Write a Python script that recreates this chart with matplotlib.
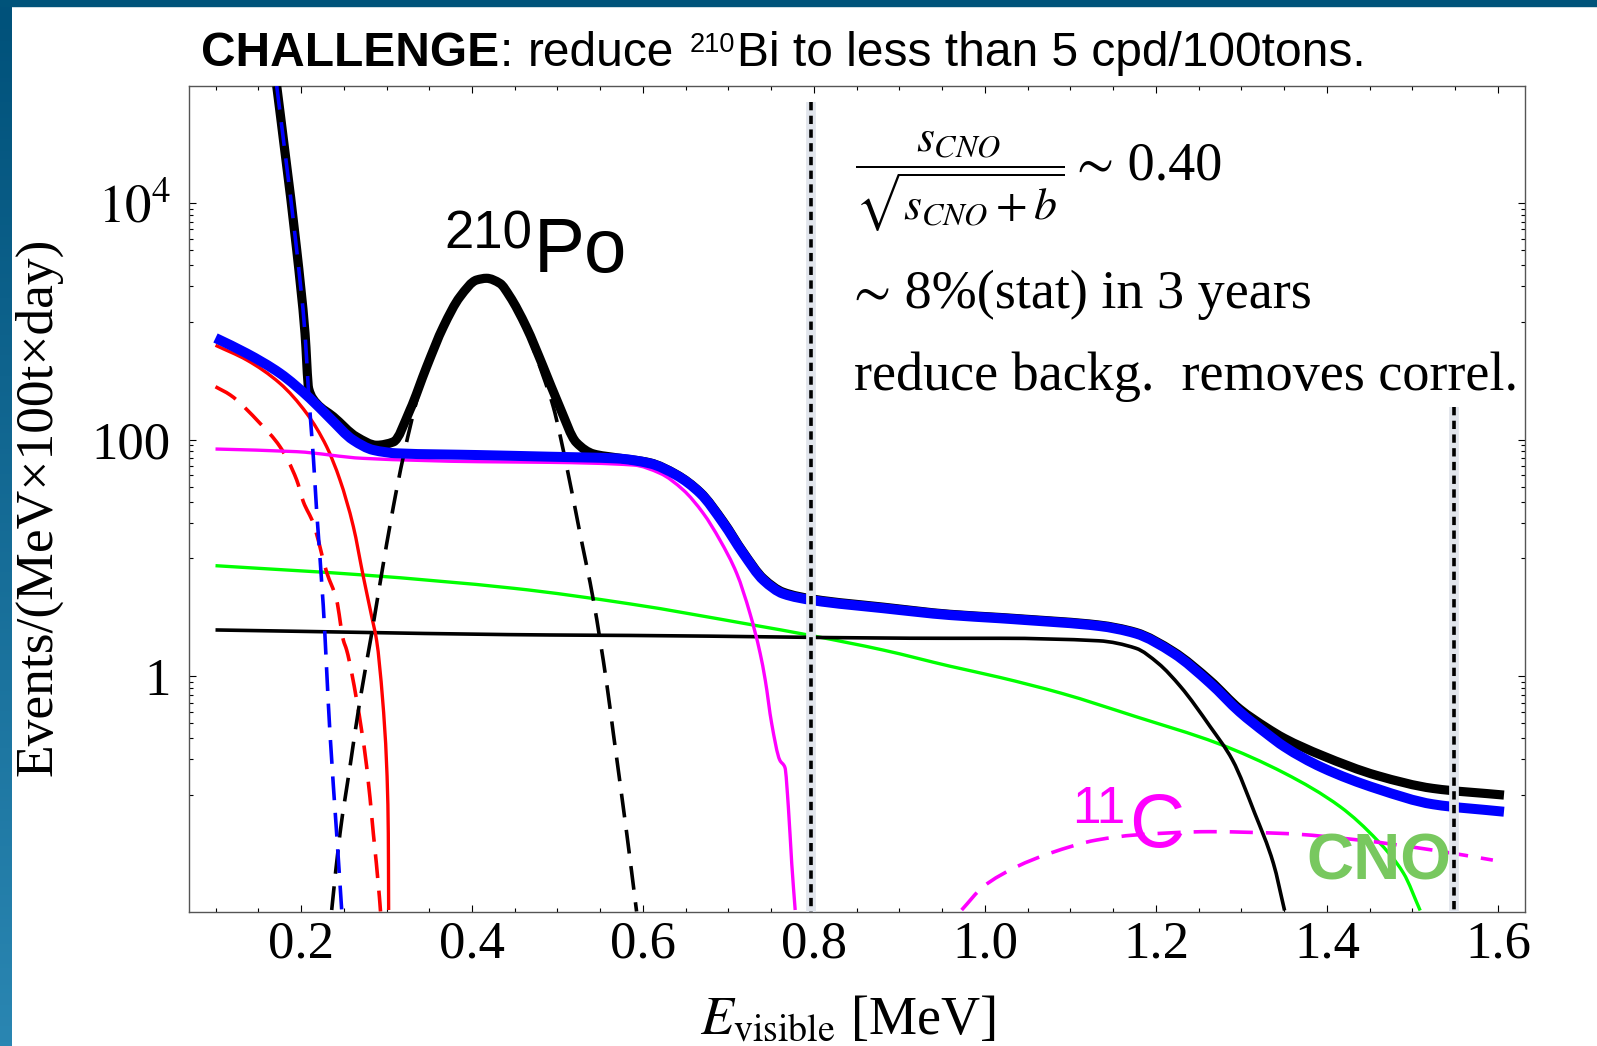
import numpy as np
import matplotlib
matplotlib.use("Agg")
import matplotlib.pyplot as plt
from matplotlib.colors import LinearSegmentedColormap
from matplotlib.patches import Rectangle, PathPatch
from matplotlib.path import Path
from matplotlib.ticker import FixedLocator, FixedFormatter, NullFormatter

# ---------------- spectra (E in MeV, events / (MeV x 100 t x day)) ----------------
total_po_x = [0.1716, 0.181, 0.195, 0.2047, 0.209, 0.2184, 0.2378, 0.265, 0.2885,
              0.308, 0.3275, 0.347, 0.3665, 0.386, 0.4055, 0.417, 0.4327, 0.444,
              0.4635, 0.483, 0.5025, 0.522, 0.542, 0.569, 0.608, 0.639, 0.667,
              0.694, 0.717, 0.741, 0.764, 0.799, 0.881, 0.959, 1.0176, 1.046,
              1.133, 1.176, 1.2205, 1.2634, 1.298, 1.329, 1.350, 1.394, 1.459,
              1.524, 1.607]
total_po_y = [98000, 28000, 4020, 795, 270, 203, 157, 106, 90,
              96, 179, 415, 903, 1620, 2245, 2320, 2100, 1640,
              900, 420, 190, 95, 76, 70.5, 64, 51, 36,
              20.3, 11.3, 6.7, 5.15, 4.5, 3.85, 3.35, 3.15, 3.05,
              2.72, 2.36, 1.62, 0.92, 0.53, 0.37, 0.30, 0.215, 0.145,
              0.113, 0.0993]

total_x = [0.1, 0.1365, 0.1754, 0.2105, 0.234, 0.261, 0.2846, 0.312, 0.409,
           0.491, 0.569, 0.608, 0.639, 0.667, 0.694, 0.717, 0.741, 0.764,
           0.799, 0.881, 0.959, 1.0176, 1.046, 1.133, 1.176, 1.2205, 1.2634,
           1.298, 1.329, 1.350, 1.394, 1.459, 1.524, 1.607]
total_y = [726, 538, 365, 224, 152, 99.5, 82, 76.9, 74.3,
           72, 69.6, 63.2, 50.3, 35.3, 19.7, 11, 6.5, 5.0,
           4.4, 3.77, 3.3, 3.1, 3.0, 2.67, 2.31, 1.57, 0.875,
           0.50, 0.33, 0.255, 0.17, 0.112, 0.083, 0.0718]

c14_x = [0.1716, 0.181, 0.195, 0.2047, 0.209, 0.2144, 0.2183, 0.226, 0.2339,
         0.2417, 0.2476]
c14_y = [98000, 28000, 4000, 790, 240, 72, 25, 4.0, 0.33, 0.047, 0.0106]

po_x = [0.2359, 0.2456, 0.2573, 0.269, 0.2827, 0.2924, 0.308, 0.3197, 0.339,
        0.3665, 0.386, 0.4055, 0.415, 0.4327, 0.444, 0.4635, 0.483, 0.495,
        0.5108, 0.5263, 0.542, 0.5575, 0.5653, 0.581, 0.5925]
po_y = [0.0106, 0.047, 0.173, 0.63, 2.31, 6.1, 27.2, 72, 264,
        830, 1550, 2180, 2250, 2050, 1570, 830, 350, 191,
        59.3, 16.2, 4.4, 0.875, 0.33, 0.047, 0.0103]

bi_x = [0.1, 0.1365, 0.1754, 0.2067, 0.230, 0.2456, 0.2612, 0.2729, 0.2827,
        0.2885, 0.2955, 0.3002, 0.3021, 0.3025]
bi_y = [630, 473, 300, 167, 87.5, 45.7, 18.5, 6.97, 3.2,
        2.0, 0.63, 0.173, 0.047, 0.0106]

bi_low_x = [0.1, 0.117, 0.152, 0.1754, 0.195, 0.2027, 0.2144, 0.230, 0.2417,
            0.2495, 0.2534, 0.2651, 0.2768, 0.2846, 0.2917, 0.293]
bi_low_y = [281, 240, 138, 87.5, 45.7, 30, 19.7, 7.6, 4.4,
            2.03, 1.67, 0.63, 0.173, 0.047, 0.0137, 0.0103]

be7_x = [0.1, 0.195, 0.273, 0.409, 0.491, 0.589, 0.62, 0.647, 0.6705, 0.690,
         0.7096, 0.7251, 0.737, 0.743, 0.7505, 0.760, 0.766, 0.770, 0.774, 0.778]
be7_y = [83.6, 79.4, 69.7, 65.3, 64.5, 61.2, 52.1, 37.7, 23.9, 14.2,
         7.43, 3.41, 1.57, 0.93, 0.40, 0.196, 0.17, 0.079, 0.026, 0.0106]

cno_x = [0.1, 0.273, 0.4483, 0.585, 0.725, 0.799, 0.881, 0.959, 1.0176, 1.0895,
         1.1765, 1.272, 1.3504, 1.4156, 1.459, 1.4895, 1.509]
cno_y = [8.63, 7.2, 5.56, 4.1, 2.75, 2.2, 1.67, 1.22, 0.98, 0.72,
         0.457, 0.272, 0.152, 0.079, 0.041, 0.0217, 0.0105]

pep_x = [0.1, 0.491, 0.585, 0.959, 1.0176, 1.133, 1.1765, 1.2026, 1.2287,
         1.2634, 1.2895, 1.3155, 1.3373, 1.3504]
pep_y = [2.47, 2.24, 2.22, 2.1, 2.1, 2.0, 1.73, 1.29, 0.82,
         0.376, 0.196, 0.0697, 0.0263, 0.0105]

c11_x = [0.9727, 0.998, 1.037, 1.076, 1.1306, 1.1765, 1.263, 1.350, 1.437,
         1.524, 1.594]
c11_y = [0.0106, 0.0167, 0.0246, 0.032, 0.0414, 0.0457, 0.0487, 0.047, 0.0414,
         0.034, 0.028]

# energy window limits
window_x = [0.797, 1.548]
window_top = [7.2e4, 190]

# axis ticks
x_major = [0.2, 0.4, 0.6, 0.8, 1.0, 1.2, 1.4, 1.6]
x_major_labels = ['0.2', '0.4', '0.6', '0.8', '1.0', '1.2', '1.4', '1.6']
x_minor = [round(0.1 + 0.05 * i, 2) for i in range(31)]
y_major = [1e-2, 1, 1e2, 1e4]
y_major_labels = ['0.01', '1', '100', r'$10^4$']
y_minor = [k * 10.0 ** m for m in (-1, 1, 3) for k in range(1, 10)]

# ---------------- figure ----------------
W, H, DPI = 1597, 1046, 100
serif = ['Liberation Serif', 'STIXGeneral', 'DejaVu Serif']
sans = ['Liberation Sans', 'DejaVu Sans']
plt.rcParams['font.family'] = serif
plt.rcParams['mathtext.fontset'] = 'stix'

fig = plt.figure(figsize=(W / DPI, H / DPI), dpi=DPI)
fig.patch.set_facecolor('white')


def fx(px):
    return px / W


def fy(py):
    return 1 - py / H


# slide frame: gradient bar on the left, solid bar on top
ax_frame = fig.add_axes([0, 0, 12 / W, 1])
frame_cmap = LinearSegmentedColormap.from_list('frame', ['#00517a', '#2a86b2'])
ax_frame.imshow(np.linspace(0, 1, 256)[:, None], aspect='auto', cmap=frame_cmap,
                extent=[0, 1, 0, 1], origin='upper')
ax_frame.axis('off')
fig.patches.append(Rectangle((0, 1 - 6 / H), 1, 6 / H, transform=fig.transFigure,
                             color='#00537a', zorder=5))

ax = fig.add_axes([fx(189), fy(911.7), (1525 - 189) / W, (911.7 - 86) / H])
ax.set_yscale('log')
ax.set_xlim(0.069, 1.6316)
ax.set_ylim(10 ** -1.989, 10 ** 4.991)


def spectrum(xs, ys, **kw):
    """Draw a spectrum through its points as a smooth curve (monotone cubic
    segments in x / log10(y), the axes' own coordinates)."""
    x = np.asarray(xs, float)
    y = np.asarray(ys, float)
    ly = np.log10(y)
    h = np.diff(x)
    d = np.diff(ly) / h
    m = np.empty_like(x)
    m[0], m[-1] = d[0], d[-1]
    for k in range(1, len(x) - 1):
        if d[k - 1] * d[k] <= 0:
            m[k] = 0.0
        else:
            w1 = 2 * h[k] + h[k - 1]
            w2 = h[k] + 2 * h[k - 1]
            m[k] = (w1 + w2) / (w1 / d[k - 1] + w2 / d[k])
    verts = [(x[0], y[0])]
    codes = [Path.MOVETO]
    for k in range(len(x) - 1):
        verts += [(x[k] + h[k] / 3, 10 ** (ly[k] + m[k] * h[k] / 3)),
                  (x[k + 1] - h[k] / 3, 10 ** (ly[k + 1] - m[k + 1] * h[k] / 3)),
                  (x[k + 1], y[k + 1])]
        codes += [Path.CURVE4] * 3
    patch = PathPatch(Path(verts, codes), fill=False, capstyle='butt',
                      joinstyle='round', **kw)
    ax.add_patch(patch)
    return patch


dash = (0, (6.6, 3.5))
spectrum(cno_x, cno_y, edgecolor='#00ff00', lw=2.4, zorder=2)
spectrum(pep_x, pep_y, edgecolor='black', lw=2.6, zorder=2)
spectrum(bi_x, bi_y, edgecolor='#ff0000', lw=2.4, zorder=2)
spectrum(bi_low_x, bi_low_y, edgecolor='#ff0000', lw=2.6, linestyle=dash, zorder=2)
spectrum(be7_x, be7_y, edgecolor='#ff00ff', lw=2.4, zorder=2)
spectrum(c11_x, c11_y, edgecolor='#ff00ff', lw=2.6, linestyle=(0, (6.4, 3.6)),
         zorder=2)
spectrum(po_x, po_y, edgecolor='black', lw=2.6, linestyle=dash, zorder=2)
spectrum(total_po_x, total_po_y, edgecolor='black', lw=6.6, zorder=3)
spectrum(total_x, total_y, edgecolor='#0000ff', lw=7.2, zorder=4)
spectrum(c14_x, c14_y, edgecolor='#0000ff', lw=2.6, linestyle=dash, zorder=5)

for xv, top in zip(window_x, window_top):
    ax.plot([xv, xv], [top, 1e-3], color='#e1e5ec', lw=7, zorder=6,
            solid_capstyle='butt')
    ax.plot([xv, xv], [top, 1e-3], color='black', lw=2.6, ls=(0, (2.3, 1.5)),
            zorder=7)

# axes styling
ax.xaxis.set_major_locator(FixedLocator(x_major))
ax.xaxis.set_major_formatter(FixedFormatter(x_major_labels))
ax.xaxis.set_minor_locator(FixedLocator(x_minor))
ax.xaxis.set_minor_formatter(NullFormatter())
ax.yaxis.set_major_locator(FixedLocator(y_major))
ax.yaxis.set_major_formatter(FixedFormatter(y_major_labels))
ax.yaxis.set_minor_locator(FixedLocator(y_minor))
ax.yaxis.set_minor_formatter(NullFormatter())
ax.tick_params(which='both', direction='in', top=True, right=True,
               width=0.8, color='black', labelsize=38)
ax.tick_params(which='major', length=5)
ax.tick_params(which='minor', length=3)
ax.tick_params(axis='x', which='major', pad=6)
ax.tick_params(axis='y', which='major', pad=13)
for sp in ax.spines.values():
    sp.set_color('#555555')
    sp.set_linewidth(1.0)

# axis labels
fig.text(fx(38.7), fy(506.5), 'Events/(MeV×100t×day)', rotation=90,
         ha='center', va='center', fontsize=38.5)
fig.text(fx(848), fy(1034), r'$E_{\mathrm{visible}}$ [MeV]', ha='center',
         va='baseline', fontsize=39)

# title line built from pieces
renderer = fig.canvas.get_renderer()


def run(pieces, x, base):
    for s, size, weight, dy, gap in pieces:
        t = fig.text(fx(x), fy(base - dy), s, fontsize=size, fontweight=weight,
                     family=sans, ha='left', va='baseline')
        x = t.get_window_extent(renderer).x1 + gap


run([('CHALLENGE', 34.5, 'bold', 0, 1),
     (':', 34.5, 'normal', 0, 15),
     ('reduce', 34.5, 'normal', 0, 15),
     ('210', 19.5, 'normal', 13, 2),
     ('Bi to less than 5 cpd/100tons.', 34.5, 'normal', 0, 0)],
    200.6, 65.5)

# isotope labels
fig.text(fx(532), fy(248.3), '210', fontsize=38, family=sans, ha='right',
         va='baseline')
fig.text(fx(534), fy(271.7), 'Po', fontsize=55, family=sans, ha='left',
         va='baseline')
fig.text(fx(1125), fy(823), '11', fontsize=37, family=sans, ha='right',
         va='baseline', color='#ff00ff')
fig.text(fx(1129), fy(847), 'C', fontsize=55, family=sans, ha='left',
         va='baseline', color='#ff00ff')
fig.text(fx(1306.7), fy(879), 'CNO', fontsize=47, family=sans,
         fontweight='bold', ha='left', va='baseline', color='#78c85f')

# sensitivity notes
fig.text(fx(855), fy(182), r'$\dfrac{s_{CNO}}{\sqrt{s_{CNO}+b}}$',
         fontsize=33, ha='left', va='center')
fig.text(fx(1077), fy(180), '\u223c 0.40', fontsize=39, ha='left',
         va='baseline')
fig.text(fx(853.5), fy(307.6), '\u223c 8%(stat) in 3 years', fontsize=39,
         ha='left', va='baseline')
fig.text(fx(853.5), fy(390), 'reduce backg.  removes correl.', fontsize=39,
         ha='left', va='baseline')

fig.savefig('out.png', dpi=DPI, facecolor='white')
